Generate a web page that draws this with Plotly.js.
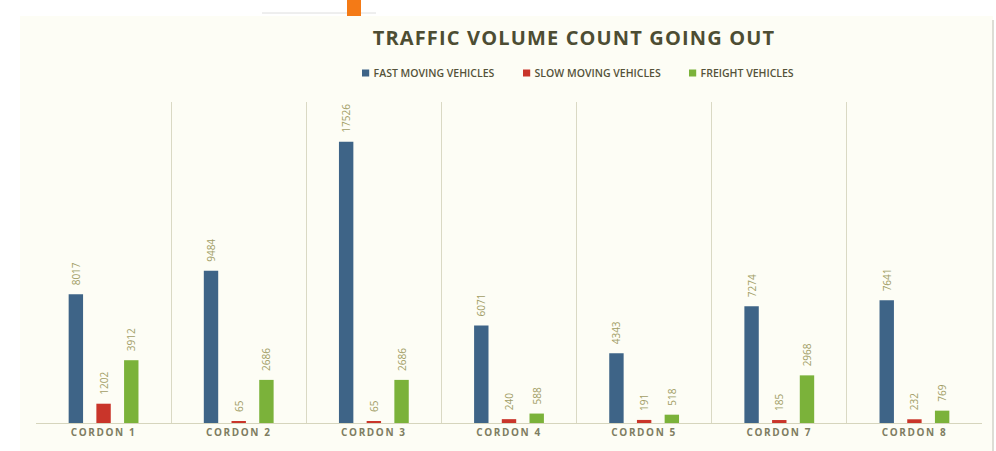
<!DOCTYPE html>
<html>
<head>
<meta charset="utf-8">
<script src="https://cdn.plot.ly/plotly-3.0.1.min.js"></script>
<style>html,body{margin:0;padding:0;background:#ffffff;}</style>
</head>
<body>
<div id="chart" style="width:996px;height:451px"></div>
<script>
const categories = ['CORDON 1', 'CORDON 2', 'CORDON 3', 'CORDON 4', 'CORDON 5', 'CORDON 7', 'CORDON 8'];
const fastMoving = [8017, 9484, 17526, 6071, 4343, 7274, 7641];
const slowMoving = [1202, 65, 65, 240, 191, 185, 232];
const freight = [3912, 2686, 2686, 588, 518, 2968, 769];
const seriesNames = ['FAST MOVING VEHICLES', 'SLOW MOVING VEHICLES', 'FREIGHT VEHICLES'];
const chartTitle = 'TRAFFIC VOLUME COUNT GOING OUT';

const colors = ['#3e6487', '#c9352a', '#7bb23a'];
const labelFont = {family: 'Open Sans', size: 10, color: '#a29d66'};

function barTrace(name, values, color) {
  return {
    type: 'bar',
    name: name,
    x: categories,
    y: values,
    marker: {color: color, line: {width: 0}},
    text: values.map(String),
    textposition: 'outside',
    textangle: -90,
    textfont: labelFont,
    constraintext: 'none',
    cliponaxis: false,
    hoverinfo: 'x+y+name'
  };
}

const data = [
  barTrace(seriesNames[0], fastMoving, colors[0]),
  barTrace(seriesNames[1], slowMoving, colors[1]),
  barTrace(seriesNames[2], freight, colors[2])
];

// pixel helpers for paper coordinates (plot area: x 36..982, y 102..423)
const L = 36, R = 982, T = 102, B = 423;
const px = v => (v - L) / (R - L);
const py = v => (B - v) / (B - T);

const layout = {
  width: 996,
  height: 451,
  margin: {l: L, r: 996 - R, t: T, b: 451 - B, pad: 0},
  paper_bgcolor: '#ffffff',
  plot_bgcolor: 'rgba(0,0,0,0)',
  font: {family: 'Open Sans', color: '#5c5a40'},
  title: {
    text: chartTitle,
    font: {family: 'Open Sans', size: 20, weight: 700, color: '#4d4d33'},
    xref: 'container', x: 574 / 996, xanchor: 'center',
    yref: 'container', y: 1 - 38 / 451, yanchor: 'middle'
  },
  barmode: 'group',
  bargap: 0.385,
  bargroupgap: 0.48,
  showlegend: true,
  legend: {
    orientation: 'h',
    x: px(578), xanchor: 'center',
    y: py(73), yanchor: 'middle',
    font: {family: 'Open Sans', size: 10.5, weight: 600, color: '#55533a'},
    bgcolor: 'rgba(0,0,0,0)',
    itemclick: false, itemdoubleclick: false
  },
  xaxis: {
    type: 'category',
    tickson: 'boundaries',
    showgrid: true,
    gridcolor: '#dad9c4',
    gridwidth: 1,
    showline: true,
    linecolor: '#d6d5bd',
    linewidth: 1,
    ticks: '',
    tickfont: {family: 'Open Sans', size: 10, weight: 700, color: '#7f7d62'},
    fixedrange: true
  },
  yaxis: {
    range: [0, 20000],
    showgrid: false,
    zeroline: false,
    showticklabels: false,
    showline: false,
    ticks: '',
    fixedrange: true
  },
  shapes: [
    {type: 'rect', xref: 'paper', yref: 'paper', layer: 'below',
     x0: px(20), x1: px(993), y0: py(452), y1: py(16),
     fillcolor: '#fdfdf5', line: {width: 0}},
    {type: 'line', xref: 'paper', yref: 'paper', layer: 'below',
     x0: px(993), x1: px(993), y0: py(452), y1: py(20),
     line: {color: '#d2d2c8', width: 1.5}},
    {type: 'line', xref: 'paper', yref: 'paper', layer: 'below',
     x0: px(262), x1: px(376), y0: py(13), y1: py(13),
     line: {color: '#dedede', width: 1}},
    {type: 'rect', xref: 'paper', yref: 'paper', layer: 'below',
     x0: px(347), x1: px(361), y0: py(16), y1: py(0),
     fillcolor: '#f47a16', line: {width: 0}}
  ]
};

// target left edges (px) of the legend squares in the reference
const legendSquareLeft = [362, 523, 689];

Plotly.newPlot('chart', data, layout, {displayModeBar: false}).then(gd => {
  gd.querySelectorAll('.xtick text').forEach(t => { t.style.letterSpacing = '1.6px'; });
  const tt = gd.querySelector('.gtitle');
  if (tt) tt.style.letterSpacing = '1.15px';

  // lift the value labels a bit further above the bars
  gd.querySelectorAll('.barlayer .bartext').forEach(t => {
    const tr = t.getAttribute('transform') || '';
    t.setAttribute('transform', 'translate(0,-6) ' + tr);
  });

  // compact legend: smaller squares, tighter text gap, reference spacing
  const items = gd.querySelectorAll('.legend .traces');
  items.forEach((g, i) => {
    const path = g.querySelector('.legendpoints path');
    const text = g.querySelector('text.legendtext');
    if (!path || !text) return;
    const before = path.getBoundingClientRect();
    const cx = before.left + before.width / 2;
    const ptr = path.getAttribute('transform') || '';
    path.setAttribute('transform', ptr + ' scale(0.6)');
    const after = path.getBoundingClientRect();
    const dx = legendSquareLeft[i] - after.left;
    const gtr = g.getAttribute('transform') || '';
    g.setAttribute('transform', 'translate(' + dx + ',0) ' + gtr);
    const tx = parseFloat(text.getAttribute('x')) || 40;
    text.setAttribute('x', tx - 12);
  });
});
</script>
</body>
</html>
